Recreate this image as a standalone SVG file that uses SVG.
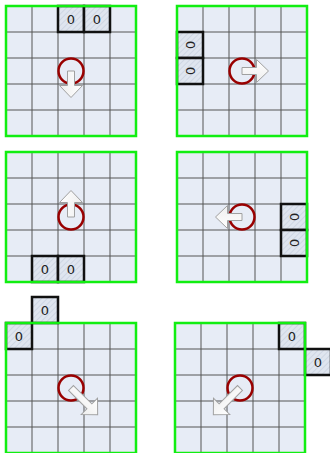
<svg xmlns="http://www.w3.org/2000/svg" width="330" height="453" viewBox="0 0 330 453">
<style>
.bg{fill:#e7ecf6}
.gl{stroke:#555;stroke-width:1;fill:none}
.cell{fill:url(#hatch);stroke:#111;stroke-width:2.5}
.t{font-family:"DejaVu Sans",sans-serif;font-size:13px;fill:#222;text-anchor:middle;dominant-baseline:central}
.ring{fill:none;stroke:#990000;stroke-width:2.5}
.arr{fill:url(#ag);stroke:#a0a0a0;stroke-width:1}
.frame{fill:none;stroke:#11ee11;stroke-width:2.5}
</style>
<defs>
<pattern id="hatch" patternUnits="userSpaceOnUse" width="4" height="4" patternTransform="rotate(45)">
<rect width="4" height="4" fill="#dfe5ef"/>
<line x1="0" y1="0" x2="0" y2="4" stroke="#c9d1e0" stroke-width="1.5"/>
</pattern>
<linearGradient id="ag" x1="0" y1="0" x2="0" y2="1">
<stop offset="0" stop-color="#ffffff"/>
<stop offset="1" stop-color="#eeeeee"/>
</linearGradient>
<g id="grid">
<rect class="bg" width="130" height="130"/>
<path class="gl" d="M26,0V130M52,0V130M78,0V130M104,0V130M0,26H130M0,52H130M0,78H130M0,104H130"/>
</g>
<path id="arrS" d="M0,-3.5H14.5V-11.5L26.5,0L14.5,11.5V3.5H0Z"/>
<path id="arrD" d="M0,-3.5H26V-11.5L37.7,0L26,11.5V3.5H0Z"/>
</defs>

<g id="panel1">
<use href="#grid" x="6" y="6"/>
<rect class="cell" x="58" y="6" width="26" height="26"/>
<rect class="cell" x="84" y="6" width="26" height="26"/>
<text class="t" x="71" y="19">0</text>
<text class="t" x="97" y="19">0</text>
<circle class="ring" cx="71" cy="71" r="12.5"/>
<use href="#arrS" class="arr" transform="translate(71,71) rotate(90)"/>
<rect class="frame" x="6" y="6" width="130" height="130"/>
</g>

<g id="panel2">
<use href="#grid" x="177" y="6"/>
<rect class="cell" x="177" y="32" width="26" height="26"/>
<rect class="cell" x="177" y="58" width="26" height="26"/>
<text class="t" transform="translate(190,45) rotate(90)">0</text>
<text class="t" transform="translate(190,71) rotate(90)">0</text>
<circle class="ring" cx="242" cy="71" r="12.5"/>
<use href="#arrS" class="arr" transform="translate(242,71)"/>
<rect class="frame" x="177" y="6" width="130" height="130"/>
</g>

<g id="panel3">
<use href="#grid" x="6" y="152"/>
<rect class="cell" x="32" y="256" width="26" height="26"/>
<rect class="cell" x="58" y="256" width="26" height="26"/>
<text class="t" x="45" y="269">0</text>
<text class="t" x="71" y="269">0</text>
<circle class="ring" cx="71" cy="217" r="12.5"/>
<use href="#arrS" class="arr" transform="translate(71,217) rotate(-90)"/>
<rect class="frame" x="6" y="152" width="130" height="130"/>
</g>

<g id="panel4">
<use href="#grid" x="177" y="152"/>
<rect class="cell" x="281" y="204" width="26" height="26"/>
<rect class="cell" x="281" y="230" width="26" height="26"/>
<text class="t" transform="translate(294,217) rotate(90)">0</text>
<text class="t" transform="translate(294,243) rotate(90)">0</text>
<circle class="ring" cx="242" cy="217" r="12.5"/>
<use href="#arrS" class="arr" transform="translate(242,217) rotate(180)"/>
<rect class="frame" x="177" y="152" width="130" height="130"/>
</g>

<g id="panel5">
<use href="#grid" x="6" y="323"/>
<rect class="cell" x="6" y="323" width="26" height="26"/>
<rect class="cell" x="32" y="297" width="26" height="26"/>
<text class="t" x="19" y="336">0</text>
<text class="t" x="45" y="310">0</text>
<circle class="ring" cx="71" cy="388" r="12.5"/>
<use href="#arrD" class="arr" transform="translate(71,388) rotate(45)"/>
<rect class="frame" x="6" y="323" width="130" height="130"/>
</g>

<g id="panel6">
<use href="#grid" x="175" y="323"/>
<rect class="cell" x="279" y="323" width="26" height="26"/>
<rect class="cell" x="305" y="349" width="26" height="26"/>
<text class="t" x="292" y="336">0</text>
<text class="t" x="318" y="362">0</text>
<circle class="ring" cx="240" cy="388" r="12.5"/>
<use href="#arrD" class="arr" transform="translate(240,388) rotate(135)"/>
<rect class="frame" x="175" y="323" width="130" height="130"/>
</g>

<g id="connectors"/>
</svg>
